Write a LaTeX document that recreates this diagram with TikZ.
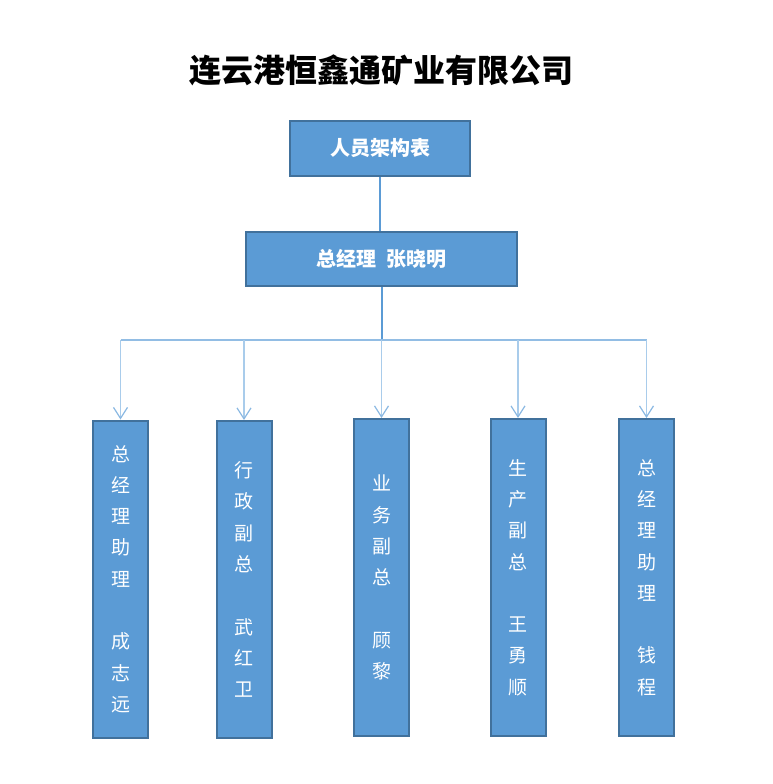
\documentclass[tikz,border=0pt]{standalone}
\usepackage{fontspec}
\setmainfont{Noto Sans CJK SC}
\usepackage{xcolor}
\usetikzlibrary{arrows.meta}
\definecolor{boxfill}{HTML}{5B9BD5}
\definecolor{boxedge}{HTML}{41719C}
\definecolor{linkblue}{HTML}{5B9BD5}
\definecolor{armblue}{HTML}{A9CCEB}
\tikzset{
    org-box/.style = {draw=boxedge, fill=boxfill, line width=2pt, rectangle, text=white, inner sep=0pt, font=\fontsize{20}{24}\selectfont\bfseries},
    staff-box/.style = {org-box, minimum width=55pt, minimum height=317pt, align=center, font=\fontsize{19}{31.3}\selectfont},
    link/.style = {draw=linkblue, line width=1.2pt},
    arm/.style = {draw=armblue, line width=1.8pt, -{Straight Barb[length=11pt,width=14pt,line width=1.2pt,color=armblue!60!linkblue]}},
}

\begin{document}
\begin{tikzpicture}[x=1pt, y=-1pt]
\useasboundingbox (0,0) rectangle (772,784);
\node [font=\fontsize{32}{36}\selectfont\bfseries] (title) at (381,70) {连云港恒鑫通矿业有限公司};
\node [org-box, minimum width=180pt, minimum height=55pt] (chart) at (380,148.5) {人员架构表};
\node [org-box, minimum width=271pt, minimum height=54pt] (gm) at (381.5,259) {总经理\ \ 张晓明};
% staff
\node [staff-box] (s1) at (120.5,579) {总\\经\\理\\助\\理\\~\\成\\志\\远};
\node [staff-box] (s2) at (244,579.5) {行\\政\\副\\总\\~\\武\\红\\卫};
\node [staff-box] (s3) at (381.5,577.5) {业\\务\\副\\总\\~\\顾\\黎};
\node [staff-box] (s4) at (518,577.5) {生\\产\\副\\总\\~\\王\\勇\\顺};
\node [staff-box] (s5) at (646.5,577.5) {总\\经\\理\\助\\理\\~\\钱\\程};
% connectors
\coordinate (bar) at (382,340);
\draw [link] (chart.south) -- (chart.south |- gm.north);
\draw [link] (gm.south -| bar) -- (bar);
\draw [link, draw=armblue!70!linkblue] (s1.north |- bar) -- (s5.north |- bar);
\foreach \i in {1,...,5}
    \draw [arm] (s\i.north |- bar) -- (s\i.north);
\end{tikzpicture}
\end{document}
